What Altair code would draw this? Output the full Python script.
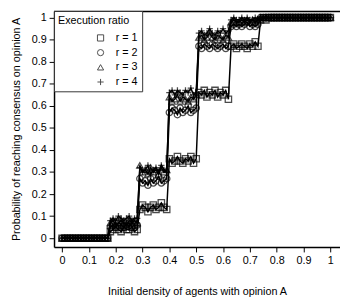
import altair as alt
import pandas as pd

# Initial density of agents with opinion A
x_vals = [
    0.00, 0.01, 0.02, 0.03, 0.04, 0.05, 0.06, 0.07, 0.08, 0.09,
    0.10, 0.11, 0.12, 0.13, 0.14, 0.15, 0.16, 0.17, 0.18, 0.19,
    0.20, 0.21, 0.22, 0.23, 0.24, 0.25, 0.26, 0.27, 0.28, 0.29,
    0.30, 0.31, 0.32, 0.33, 0.34, 0.35, 0.36, 0.37, 0.38, 0.39,
    0.40, 0.41, 0.42, 0.43, 0.44, 0.45, 0.46, 0.47, 0.48, 0.49,
    0.50, 0.51, 0.52, 0.53, 0.54, 0.55, 0.56, 0.57, 0.58, 0.59,
    0.60, 0.61, 0.62, 0.63, 0.64, 0.65, 0.66, 0.67, 0.68, 0.69,
    0.70, 0.71, 0.72, 0.73, 0.74, 0.75, 0.76, 0.77, 0.78, 0.79,
    0.80, 0.81, 0.82, 0.83, 0.84, 0.85, 0.86, 0.87, 0.88, 0.89,
    0.90, 0.91, 0.92, 0.93, 0.94, 0.95, 0.96, 0.97, 0.98, 0.99,
    1.00,
]

r1 = [
    0, 0, 0, 0, 0, 0, 0, 0, 0,
    0, 0, 0, 0, 0, 0, 0, 0, 0,
    0.03, 0.04, 0.05, 0.04, 0.03, 0.05, 0.04, 0.04, 0.05, 0.03, 0.04,
    0.13, 0.15, 0.14, 0.12, 0.14, 0.15, 0.13, 0.14, 0.16, 0.14, 0.13,
    0.36, 0.34, 0.35, 0.37, 0.35, 0.34, 0.36, 0.35, 0.37, 0.34, 0.36,
    0.66, 0.65, 0.67, 0.64, 0.66, 0.65, 0.67, 0.64, 0.66, 0.65, 0.67, 0.63,
    0.87, 0.88, 0.86, 0.87, 0.88, 0.87, 0.86, 0.88, 0.87, 0.89, 0.87,
    0.99, 1, 0.99, 1, 1, 1, 1, 1, 1,
    1, 1, 1, 1, 1, 1, 1, 1, 1,
    1, 1, 1, 1, 1, 1, 1, 1, 1,
]
r2 = [
    0, 0, 0, 0, 0, 0, 0, 0, 0,
    0, 0, 0, 0, 0, 0, 0, 0, 0,
    0.05, 0.06, 0.05, 0.07, 0.06, 0.05, 0.06, 0.07, 0.05, 0.06, 0.06,
    0.27, 0.25, 0.26, 0.24, 0.27, 0.25, 0.26, 0.28, 0.25, 0.26, 0.27,
    0.57, 0.59, 0.58, 0.56, 0.59, 0.57, 0.58, 0.60, 0.57, 0.58, 0.59,
    0.87, 0.86, 0.88, 0.87, 0.86, 0.88, 0.87, 0.86, 0.87, 0.88, 0.86, 0.87,
    0.96, 0.97, 0.96, 0.97, 0.96, 0.97, 0.98, 0.96, 0.97, 0.96, 0.97,
    1, 1, 1, 1, 1, 1, 1, 1, 1,
    1, 1, 1, 1, 1, 1, 1, 1, 1,
    1, 1, 1, 1, 1, 1, 1, 1, 1,
]
r3 = [
    0, 0, 0, 0, 0, 0, 0, 0, 0,
    0, 0, 0, 0, 0, 0, 0, 0, 0,
    0.07, 0.08, 0.06, 0.07, 0.08, 0.07, 0.06, 0.08, 0.07, 0.08, 0.07,
    0.33, 0.30, 0.31, 0.29, 0.32, 0.30, 0.31, 0.29, 0.32, 0.30, 0.31,
    0.64, 0.62, 0.63, 0.65, 0.62, 0.64, 0.63, 0.62, 0.64, 0.63, 0.65,
    0.91, 0.92, 0.90, 0.91, 0.93, 0.91, 0.90, 0.92, 0.91, 0.90, 0.92, 0.91,
    0.98, 0.99, 0.98, 0.98, 0.99, 0.98, 0.99, 0.98, 0.99, 0.98, 0.99,
    1, 1, 1, 1, 1, 1, 1, 1, 1,
    1, 1, 1, 1, 1, 1, 1, 1, 1,
    1, 1, 1, 1, 1, 1, 1, 1, 1,
]
r4 = [
    0, 0, 0, 0, 0, 0, 0, 0, 0,
    0, 0, 0, 0, 0, 0, 0, 0, 0,
    0.08, 0.09, 0.08, 0.10, 0.09, 0.08, 0.09, 0.10, 0.08, 0.09, 0.09,
    0.32, 0.30, 0.31, 0.33, 0.29, 0.31, 0.32, 0.30, 0.33, 0.31, 0.30,
    0.66, 0.67, 0.65, 0.67, 0.66, 0.65, 0.67, 0.66, 0.68, 0.65, 0.66,
    0.93, 0.94, 0.92, 0.93, 0.95, 0.93, 0.92, 0.94, 0.93, 0.95, 0.93, 0.94,
    0.99, 1, 0.99, 0.99, 1, 0.99, 1, 0.99, 0.99, 1, 0.99,
    1, 1, 1, 1, 1, 1, 1, 1, 1,
    1, 1, 1, 1, 1, 1, 1, 1, 1,
    1, 1, 1, 1, 1, 1, 1, 1, 1,
]

series_names = ["r = 1", "r = 2", "r = 3", "r = 4"]
series_values = [r1, r2, r3, r4]
shape_range = ["square", "circle", "triangle-up", "M-1,0L1,0M0,-1L0,1"]
tick_values = [0, 0.1, 0.2, 0.3, 0.4, 0.5, 0.6, 0.7, 0.8, 0.9, 1]

rows = []
for name, ys in zip(series_names, series_values):
    for xv, yv in zip(x_vals, ys):
        rows.append({"density": xv, "prob": yv, "ratio": name})
df = pd.DataFrame(rows)

FONT = "Liberation Sans"

xscale = alt.Scale(domain=[-0.03, 1.036], nice=False, zero=False)
yscale = alt.Scale(domain=[-0.04, 1.03], nice=False, zero=False)

axis_common = dict(
    values=tick_values, format=".1~f", grid=False,
    domainColor="black", domainWidth=1.5,
    tickColor="black", tickSize=5, tickWidth=1,
    labelFontSize=11, titleFontSize=11, titleFontWeight="normal",
    labelColor="black", titleColor="black", labelFont=FONT, titleFont=FONT,
    labelPadding=3,
)
xaxis = alt.Axis(title="Initial density of agents with opinion A", titlePadding=20, **axis_common)
yaxis = alt.Axis(title="Probability of reaching consensus on opinion A", titlePadding=10, **axis_common)

X = alt.X("density:Q", scale=xscale, axis=xaxis)
Y = alt.Y("prob:Q", scale=yscale, axis=yaxis)

base = alt.Chart(df)
lines = base.mark_line(color="black", strokeWidth=1.5).encode(x=X, y=Y, detail="ratio:N")
points = base.mark_point(filled=False, color="black", size=42, strokeWidth=1.3).encode(
    x=X, y=Y,
    shape=alt.Shape(
        "ratio:N",
        scale=alt.Scale(domain=series_names, range=shape_range),
        legend=alt.Legend(
            title="Execution ratio", orient="none", legendX=0, legendY=0,
            fillColor="white", strokeColor="#333", padding=4,
            titleFontSize=11, titleFontWeight="normal", titleColor="black", titleFont=FONT,
            labelFontSize=11, labelColor="black", labelFont=FONT,
            symbolOffset=38, labelOffset=10, rowPadding=3, titlePadding=7,
            symbolStrokeColor="black", symbolStrokeWidth=1, symbolSize=40,
            symbolFillColor="white",
        ),
    ),
)
top = alt.Chart(pd.DataFrame({"a": [0]})).mark_rule(color="black", strokeWidth=1.5).encode(
    x=alt.value(0), x2=alt.value(292), y=alt.value(0.5)
)

chart = alt.layer(lines, points, top).properties(
    width=292, height=241,
    padding={"left": 47, "top": 0, "right": 0, "bottom": 50},
    autosize=alt.AutoSizeParams(type="none"),
).configure_view(stroke=None).configure(font=FONT)

chart.save("out.html", embed_options={"renderer": "svg", "actions": False})
